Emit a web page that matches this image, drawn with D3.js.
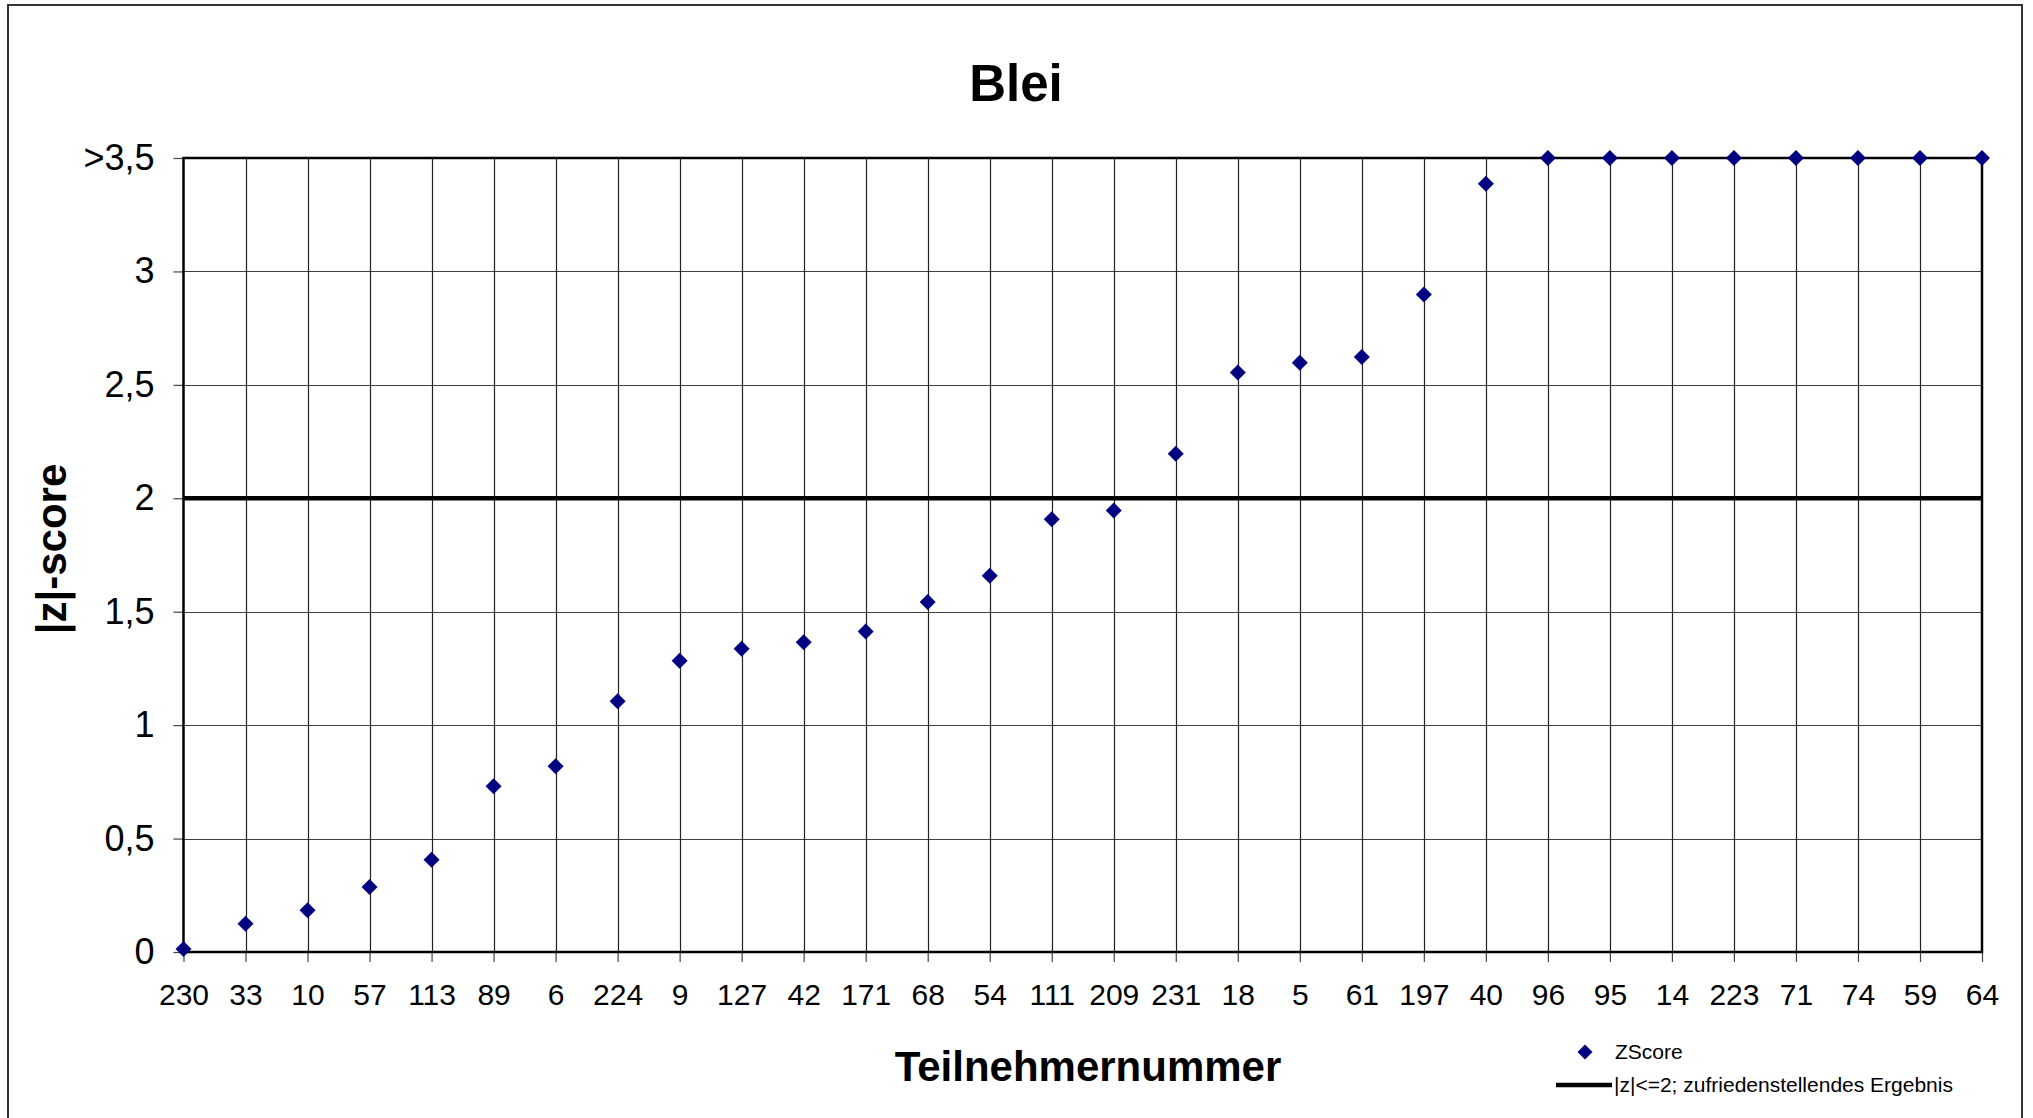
<!DOCTYPE html>
<html>
<head>
<meta charset="utf-8">
<script src="https://cdn.jsdelivr.net/npm/d3@7"></script>
<style>
  html, body { margin: 0; padding: 0; background: #fff; }
  svg { display: block; }
  text { font-family: "Liberation Sans", Arial, sans-serif; fill: #000; }
</style>
</head>
<body>
<script>
const title = "Blei";
const xTitle = "Teilnehmernummer";
const yTitle = "|z|-score";
const categories = ["230","33","10","57","113","89","6","224","9","127","42","171","68","54","111","209","231","18","5","61","197","40","96","95","14","223","71","74","59","64"];
const zScores = [0.013,0.124,0.184,0.287,0.407,0.731,0.819,1.105,1.284,1.337,1.365,1.413,1.543,1.659,1.908,1.946,2.196,2.554,2.598,2.623,2.898,3.386,3.5,3.5,3.5,3.5,3.5,3.5,3.5,3.5];
const yTickValues = [0,0.5,1,1.5,2,2.5,3,3.5];
const yTickLabels = ["0","0,5","1","1,5","2","2,5","3",">3,5"];
const threshold = 2;
const legendLabels = ["ZScore","|z|<=2; zufriedenstellendes Ergebnis"];

const W = 2033, H = 1118;
const svg = d3.select("body").append("svg").attr("width", W).attr("height", H);

// outer chart border
svg.append("rect").attr("x", 8).attr("y", 5).attr("width", 2014).attr("height", 1130)
  .attr("fill", "none").attr("stroke", "#333").attr("stroke-width", 2);

const x = d3.scalePoint().domain(categories).range([183.5, 1982]).padding(0);
const y = d3.scaleLinear().domain([0, 3.5]).range([952, 158]);

// horizontal gridlines
svg.append("g").selectAll("line").data(yTickValues.slice(1, -1)).join("line")
  .attr("x1", x.range()[0]).attr("x2", x.range()[1])
  .attr("y1", d => Math.round(y(d)) + 0.5).attr("y2", d => Math.round(y(d)) + 0.5)
  .attr("stroke", "#404040").attr("stroke-width", 1.2);

// vertical gridlines
svg.append("g").selectAll("line").data(categories.slice(1, -1)).join("line")
  .attr("x1", d => Math.round(x(d)) + 0.5).attr("x2", d => Math.round(x(d)) + 0.5)
  .attr("y1", y(3.5)).attr("y2", y(0))
  .attr("stroke", "#222").attr("stroke-width", 1.2);

// x axis
const xAxis = d3.axisBottom(x).tickSize(10).tickSizeOuter(0).tickPadding(22);
const gx = svg.append("g").attr("transform", `translate(0,${y(0)})`).call(xAxis);
gx.select(".domain").remove();
gx.selectAll(".tick line").attr("stroke", "#444").attr("stroke-width", 1.2);
gx.selectAll(".tick text").attr("font-size", 30).attr("font-family", '"Liberation Sans", Arial, sans-serif')
  .attr("fill", "#000").attr("dy", "0.71em");

// y axis
const yAxis = d3.axisLeft(y).tickValues(yTickValues).tickSize(10).tickSizeOuter(0).tickPadding(19)
  .tickFormat((d, i) => yTickLabels[i]);
const gy = svg.append("g").attr("transform", `translate(${x.range()[0]},0)`).call(yAxis);
gy.select(".domain").remove();
gy.selectAll(".tick line").attr("stroke", "#444").attr("stroke-width", 1.2);
gy.selectAll(".tick text").attr("font-size", 36).attr("font-family", '"Liberation Sans", Arial, sans-serif')
  .attr("fill", "#000");

// plot frame
svg.append("rect").attr("x", x.range()[0]).attr("y", y(3.5))
  .attr("width", x.range()[1] - x.range()[0]).attr("height", y(0) - y(3.5))
  .attr("fill", "none").attr("stroke", "#000").attr("stroke-width", 2.5);

// threshold line
svg.append("line").attr("x1", x.range()[0]).attr("x2", x.range()[1])
  .attr("y1", y(threshold)).attr("y2", y(threshold))
  .attr("stroke", "#000").attr("stroke-width", 4.5);

// points
const diamond = "M0,-8L8,0L0,8L-8,0Z";
svg.append("g").selectAll("path").data(zScores).join("path")
  .attr("d", diamond)
  .attr("transform", (d, i) => `translate(${x(categories[i])},${y(d)})`)
  .attr("fill", "#000080");

// titles
svg.append("text").attr("x", 1016).attr("y", 101).attr("text-anchor", "middle")
  .attr("font-size", 51).attr("font-weight", "bold").text(title);
svg.append("text").attr("x", 1088).attr("y", 1081).attr("text-anchor", "middle")
  .attr("font-size", 42).attr("font-weight", "bold").text(xTitle);
svg.append("text").attr("transform", "translate(66,549) rotate(-90)").attr("text-anchor", "middle")
  .attr("font-size", 42).attr("font-weight", "bold").text(yTitle);

// legend
const lg = svg.append("g");
lg.append("path").attr("d", "M0,-7.5L7.5,0L0,7.5L-7.5,0Z").attr("transform", "translate(1585,1052)").attr("fill", "#000080");
lg.append("text").attr("x", 1615).attr("y", 1059).attr("font-size", 21).text(legendLabels[0]);
lg.append("line").attr("x1", 1556).attr("x2", 1612).attr("y1", 1085).attr("y2", 1085)
  .attr("stroke", "#000").attr("stroke-width", 4.5);
lg.append("text").attr("x", 1614).attr("y", 1092).attr("font-size", 21).text(legendLabels[1]);
</script>
</body>
</html>
